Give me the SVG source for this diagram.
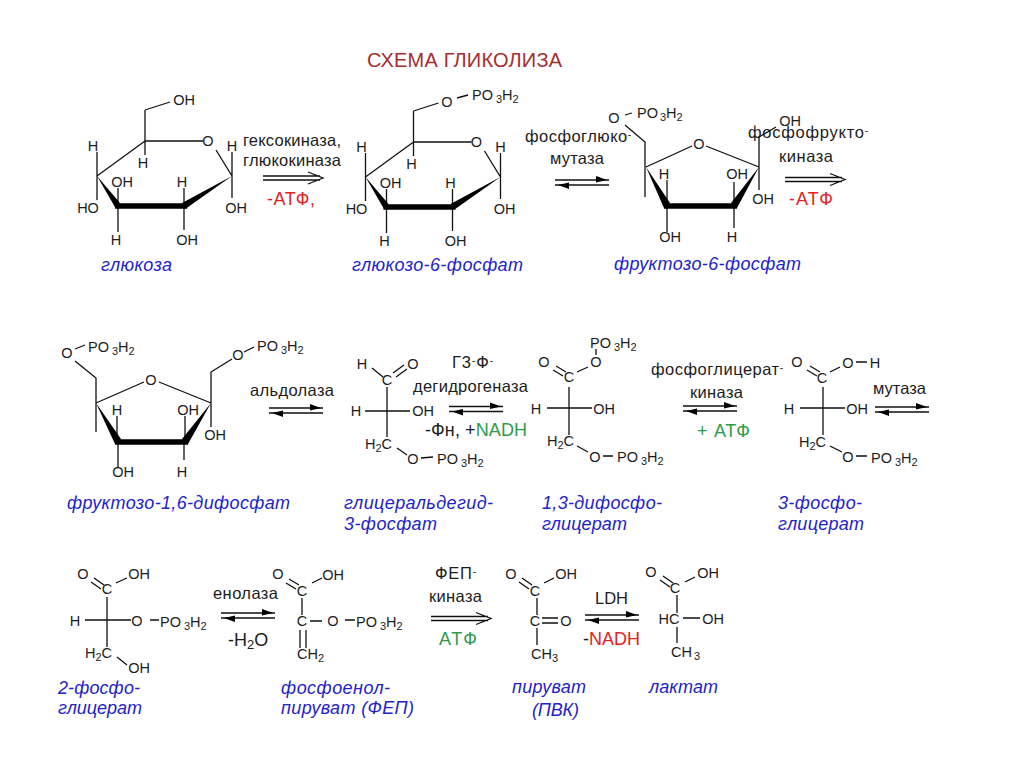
<svg xmlns="http://www.w3.org/2000/svg" width="1024" height="767" viewBox="0 0 1024 767">
<style>
text{font-family:"Liberation Sans",Arial,sans-serif;fill:#1c1c1c}
.a{font-size:14.5px;text-anchor:middle}
.p{font-size:14.5px}
.s{font-size:11px}
.e{font-size:16.500px}
.n{font-size:18px;font-style:italic;fill:#2222cc}
.r{font-size:18px;fill:#e42222}
.k{font-size:18px}
.g{font-size:18px;fill:#2f9a48}
.t{font-size:20px;fill:#a52e2e}
.b{stroke:#111;stroke-width:1.3;fill:none}
.w{stroke:#000;stroke-width:5.5;fill:none}
.f{fill:#000}
</style>
<defs>
<g id="eq"><path class="b" stroke-width="1.5" d="M0 0H54M0 5H54"/><path class="f" d="M41-4 52 0 41 2.500zM3 5 14 2.500V9z"/></g>
<g id="dbl"><path class="b" d="M0 0H57M0 4H57M45-4 60 2 45 8"/></g>
</defs>
<rect width="1024" height="767" fill="#fff"/>
<text id="title" class="t" x="367" y="67" textLength="195">СХЕМА ГЛИКОЛИЗА</text>

<g id="connectors">
<use href="#dbl" x="263" y="176"/>
<use href="#eq" x="555" y="180"/>
<use href="#dbl" x="785" y="177.500"/>
<use href="#eq" x="269" y="408"/>
<use href="#eq" x="449" y="406.500"/>
<use href="#eq" x="683" y="406"/>
<use href="#eq" x="875" y="407"/>
<use href="#eq" x="221" y="613"/>
<use href="#dbl" x="431" y="616.500"/>
<use href="#eq" x="585" y="615"/>
<text class="e" x="243" y="146" textLength="98">гексокиназа,</text>
<text class="e" x="243" y="166" textLength="98">глюкокиназа</text>
<text class="r" x="267" y="205" textLength="48">-АТФ,</text>
<text class="e" x="525" y="142" textLength="106">фосфоглюко<tspan dy="-4" font-size="10">-</tspan></text>
<text class="e" x="550" y="164" textLength="54">мутаза</text>
<text class="e" x="748" y="138" textLength="120">фосфофрукто<tspan dy="-4" font-size="10">-</tspan></text>
<text class="e" x="779" y="162" textLength="54">киназа</text>
<text class="r" x="789" y="205" textLength="44">-АТФ</text>
<text class="e" x="250" y="396" textLength="84">альдолаза</text>
<text class="e" x="452" y="368" textLength="41">Г3<tspan dy="-4" font-size="10">-</tspan><tspan dy="4">Ф</tspan><tspan dy="-4" font-size="10">-</tspan></text>
<text class="e" x="413" y="392" textLength="115">дегидрогеназа</text>
<text class="k" x="425" y="436" textLength="102">-Фн, +<tspan style="fill:#2f9a48">NADH</tspan></text>
<text class="e" x="651" y="375" textLength="132">фосфоглицерат<tspan dy="-4" font-size="10">-</tspan></text>
<text class="e" x="690" y="398" textLength="53">киназа</text>
<text class="g" x="697" y="437" textLength="53">+ АТФ</text>
<text class="e" x="873" y="394" textLength="53">мутаза</text>
<text class="e" x="213" y="599" textLength="65">енолаза</text>
<text class="k" x="228" y="646" font-size="19">-H<tspan dy="3" font-size="13">2</tspan><tspan dy="-3">O</tspan></text>
<text class="e" x="435" y="579" textLength="41">ФЕП<tspan dy="-4" font-size="10">-</tspan></text>
<text class="e" x="429" y="602" textLength="53">киназа</text>
<text class="g" x="439" y="645" textLength="38">АТФ</text>
<text class="e" x="595" y="604">LDH</text>
<text class="k" x="583" y="645" textLength="57">-<tspan style="fill:#e42222">NADH</tspan></text>
</g>

<g id="glucose">
<path class="b" d="M145 110 170 102M145 110V155M145 141H203M216 150 232 176V152M232 176V198M145 141 97 176V152M97 176V200M118 188V232M184 188V230"/>
<path class="w" d="M115 206H187"/><path class="f" d="M97 176 115.500 208 120 203zM232 176 182 203 186 208.500z"/>
<text class="a" x="184" y="105">OH</text><text class="a" x="208" y="146">O</text><text class="a" x="232" y="151">H</text><text class="a" x="93" y="151">H</text><text class="a" x="143" y="168">H</text><text class="a" x="122" y="187">OH</text><text class="a" x="182" y="187">H</text><text class="a" x="88" y="213">HO</text><text class="a" x="236" y="213">OH</text><text class="a" x="116" y="245">H</text><text class="a" x="187" y="245">OH</text>
<text class="n" x="101" y="271" textLength="71">глюкоза</text>
</g>

<g id="glucose-6-phosphate">
<g transform="translate(268.500 1)">
<path class="b" d="M145 110 170 102M145 110V155M145 141H203M216 150 232 176V152M232 176V198M145 141 97 176V152M97 176V200M118 188V232M184 188V230"/>
<path class="w" d="M115 206H187"/><path class="f" d="M97 176 115.500 208 120 203zM232 176 182 203 186 208.500z"/>
<text class="a" x="208" y="146">O</text><text class="a" x="232" y="151">H</text><text class="a" x="93" y="151">H</text><text class="a" x="143" y="168">H</text><text class="a" x="122" y="187">OH</text><text class="a" x="182" y="187">H</text><text class="a" x="88" y="213">HO</text><text class="a" x="236" y="213">OH</text><text class="a" x="116" y="245">H</text><text class="a" x="187" y="245">OH</text>
</g>
<path class="b" d="M457 98 468 95"/>
<text class="a" x="447" y="107">O</text>
<text class="p" x="472" y="100">PO<tspan class="s" dx="3" dy="3">3</tspan><tspan dy="-3">H</tspan><tspan class="s" dy="3">2</tspan></text>
<text class="n" x="352" y="271" textLength="171">глюкозо-6-фосфат</text>
</g>

<g id="fructose-6-phosphate">
<path class="b" d="M646 167 692 146M706 146 759 167M645 197V142L625 125M625 115 632 113M759 190V137L776 127M667 180V232M734 182V228"/>
<path class="w" d="M664 206H737"/><path class="f" d="M646 167 664 208 670 203zM759 167 731 203 737 208z"/>
<text class="a" x="699" y="149">O</text><text class="a" x="614" y="123">O</text>
<text class="p" x="637" y="118">PO<tspan class="s" dx="2" dy="3">3</tspan><tspan dy="-3">H</tspan><tspan class="s" dy="3">2</tspan></text>
<text class="a" x="790" y="126">OH</text><text class="a" x="664" y="179">H</text><text class="a" x="737" y="179">OH</text><text class="a" x="763" y="204">OH</text><text class="a" x="670" y="242">OH</text><text class="a" x="732" y="242">H</text>
<text class="n" x="614" y="270" textLength="187">фруктозо-6-фосфат</text>
</g>

<g id="fructose-1-6-diphosphate">
<path class="b" d="M96 432V378L75 361M75 349 85 345M96 403 144 382M159 382 211 403M211 427V372L232 359M244 352 254 347M117 416V442M185 416V442M118 442V468M184 442V460"/>
<path class="w" d="M115 442H188"/><path class="f" d="M96 403 115 444 121 439zM211 403 182 439 188 444z"/>
<text class="a" x="151" y="385">O</text><text class="a" x="67" y="358">O</text><text class="a" x="238" y="360">O</text>
<text class="p" x="88" y="352">PO<tspan class="s" dx="3" dy="3">3</tspan><tspan dy="-3">H</tspan><tspan class="s" dy="3">2</tspan></text>
<text class="p" x="257" y="351">PO<tspan class="s" dx="3" dy="3">3</tspan><tspan dy="-3">H</tspan><tspan class="s" dy="3">2</tspan></text>
<text class="a" x="117" y="415">H</text><text class="a" x="188" y="415">OH</text><text class="a" x="215" y="440">OH</text><text class="a" x="123" y="477">OH</text><text class="a" x="182" y="477">H</text>
<text class="n" x="67" y="509" textLength="223">фруктозо-1,6-дифосфат</text>
</g>

<g id="glyceraldehyde-3-phosphate">
<path class="b" d="M372 368 383 377M393 373 404 365M396 377 407 369M387 387V437M365 411H410M397 448 407 455M421 458 433 457"/>
<text class="a" x="362" y="369">H</text><text class="a" x="387" y="385">C</text><text class="a" x="413" y="369">O</text><text class="a" x="356" y="416">H</text><text class="a" x="423" y="416">OH</text>
<text class="p" x="365" y="449">H<tspan class="s" dy="3">2</tspan><tspan dy="-3">C</tspan></text>
<text class="a" x="413" y="464">O</text>
<text class="p" x="437" y="464">PO<tspan class="s" dx="3" dy="3">3</tspan><tspan dy="-3">H</tspan><tspan class="s" dy="3">2</tspan></text>
<text class="n" x="344" y="509" textLength="149">глицеральдегид-</text><text class="n" x="344" y="530" textLength="93">3-фосфат</text>
</g>

<g id="diphosphoglycerate">
<path class="b" d="M553 370 563 376M556 366 566 372M577 372 588 367M596 349V355M569 387V435M547 408H592M577 446 588 452M603 456H613"/>
<text class="a" x="544" y="367">O</text><text class="a" x="569" y="382">C</text><text class="a" x="596" y="367">O</text>
<text class="p" x="590" y="348">PO<tspan class="s" dx="3" dy="3">3</tspan><tspan dy="-3">H</tspan><tspan class="s" dy="3">2</tspan></text>
<text class="a" x="536" y="414">H</text><text class="a" x="604" y="414">OH</text>
<text class="p" x="547" y="446">H<tspan class="s" dy="3">2</tspan><tspan dy="-3">C</tspan></text>
<text class="a" x="595" y="462">O</text>
<text class="p" x="617" y="462">PO<tspan class="s" dx="3" dy="3">3</tspan><tspan dy="-3">H</tspan><tspan class="s" dy="3">2</tspan></text>
<text class="n" x="542" y="509" textLength="120">1,3-дифосфо-</text><text class="n" x="542" y="530" textLength="85">глицерат</text>
</g>

<g id="phosphoglycerate-3">
<path class="b" d="M807 370 817 376M810 366 820 372M830 372 840 367M856 362H867M823 387V435M800 408H845M830 446 842 452M856 456H867"/>
<text class="a" x="797" y="367">O</text><text class="a" x="822" y="383">C</text><text class="a" x="848" y="368">O</text><text class="a" x="875" y="368">H</text><text class="a" x="789" y="414">H</text><text class="a" x="857" y="414">OH</text>
<text class="p" x="799" y="447">H<tspan class="s" dy="3">2</tspan><tspan dy="-3">C</tspan></text>
<text class="a" x="848" y="462">O</text>
<text class="p" x="871" y="463">PO<tspan class="s" dx="3" dy="3">3</tspan><tspan dy="-3">H</tspan><tspan class="s" dy="3">2</tspan></text>
<text class="n" x="778" y="509" textLength="84">3-фосфо-</text><text class="n" x="778" y="530" textLength="86">глицерат</text>
</g>

<g id="phosphoglycerate-2">
<path class="b" d="M91 582 101 589M94 578 104 585M116 583 127 578M107 597V647M85 620H131M150 620H159M117 657 127 665"/>
<text class="a" x="83" y="579">O</text><text class="a" x="107" y="594">C</text><text class="a" x="139" y="579">OH</text><text class="a" x="75" y="626">H</text><text class="a" x="137" y="626">O</text>
<text class="p" x="160" y="627">PO<tspan class="s" dx="3" dy="3">3</tspan><tspan dy="-3">H</tspan><tspan class="s" dy="3">2</tspan></text>
<text class="p" x="85" y="658">H<tspan class="s" dy="3">2</tspan><tspan dy="-3">C</tspan></text>
<text class="a" x="139" y="673">OH</text>
<text class="n" x="58" y="694" textLength="82">2-фосфо-</text><text class="n" x="58" y="714" textLength="84">глицерат</text>
</g>

<g id="phosphoenolpyruvate">
<path class="b" d="M286 583 296 589M289 579 299 585M312 583 322 578M302 598V615M310 621H322M345 620H355M300 630V648M306 630V648"/>
<text class="a" x="278" y="579">O</text><text class="a" x="302" y="596">C</text><text class="a" x="333" y="580">OH</text><text class="a" x="302" y="626">C</text><text class="a" x="333" y="626">O</text>
<text class="p" x="356" y="627">PO<tspan class="s" dx="3" dy="3">3</tspan><tspan dy="-3">H</tspan><tspan class="s" dy="3">2</tspan></text>
<text class="p" x="297" y="659">CH<tspan class="s" dy="3">2</tspan></text>
<text class="n" x="281" y="694" textLength="109">фосфоенол-</text><text class="n" x="281" y="714" textLength="133">пируват (ФЕП)</text>
</g>

<g id="pyruvate">
<path class="b" d="M519 582 529 589M522 578 532 585M544 583 554 578M537 598V615M542 618H558M542 623H558M537 628V645"/>
<text class="a" x="511" y="579">O</text><text class="a" x="535" y="596">C</text><text class="a" x="566" y="579">OH</text><text class="a" x="535" y="626">C</text><text class="a" x="566" y="626">O</text>
<text class="p" x="531" y="659">CH<tspan class="s" dy="3">3</tspan></text>
<text class="n" x="512" y="693" textLength="74">пируват</text><text class="n" x="532" y="716" textLength="47">(ПВК)</text>
</g>

<g id="lactate">
<path class="b" d="M660 580 670 587M663 576 673 583M685 582 695 577M677 595V613M683 618H700M677 627V643"/>
<text class="a" x="651" y="577">O</text><text class="a" x="675" y="593">C</text><text class="a" x="708" y="578">OH</text><text class="a" x="669" y="624">HC</text><text class="a" x="713" y="624">OH</text>
<text class="p" x="671" y="657">CH<tspan class="s" dx="2" dy="3">3</tspan></text>
<text class="n" x="649" y="693" textLength="69">лактат</text>
</g>
</svg>
